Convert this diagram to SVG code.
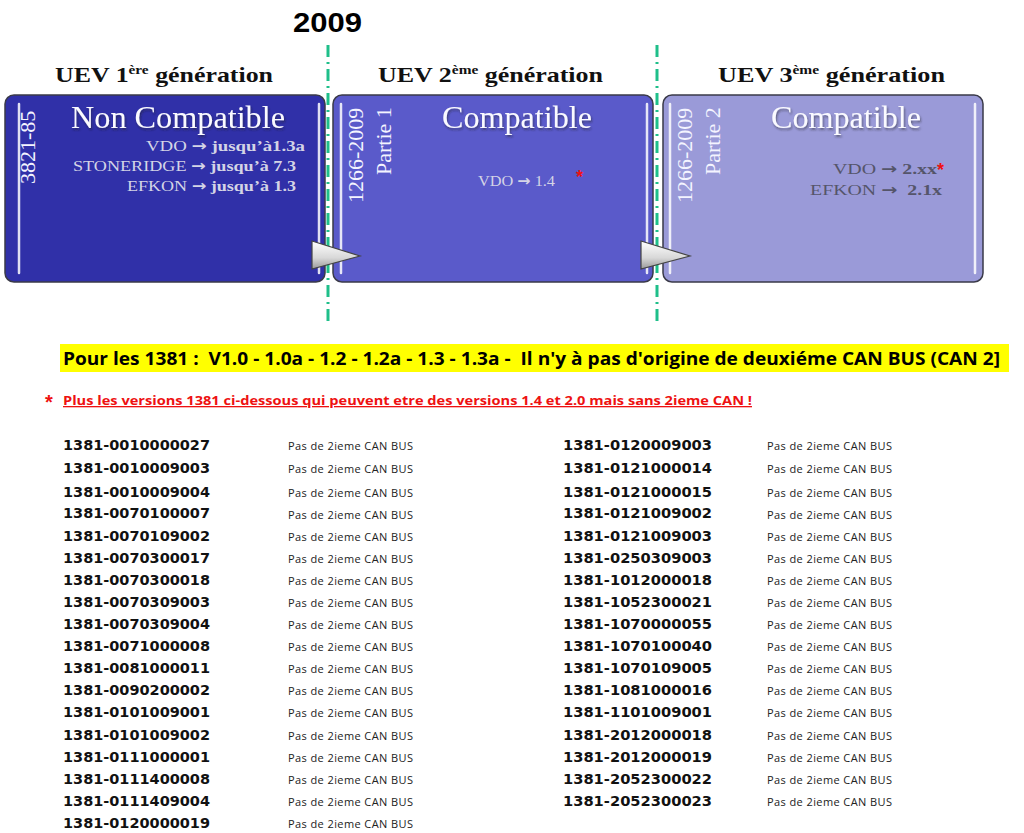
<svg xmlns="http://www.w3.org/2000/svg" width="1024" height="833" viewBox="0 0 1024 833">
<defs>
<style>
.hd{font-family:"Liberation Serif",serif;font-weight:bold;font-size:22px;fill:#111}
.vt{font-family:"Liberation Serif",serif;font-size:22px;fill:#f4f4ff}
.big{font-family:"Liberation Serif",serif;font-size:32px;fill:#fafaff;text-anchor:middle}
.sm{font-family:"Liberation Serif",serif;font-size:15.5px;fill:#d4d4e6}
.sm3{font-family:"Liberation Serif",serif;font-size:15.5px;fill:#55556a}
.b{font-weight:bold}
.ar{font-family:"DejaVu Sans",sans-serif;font-weight:bold;font-size:15px}
.code{font-family:"DejaVu Sans",sans-serif;font-weight:bold;font-size:14px;fill:#111}
.lab{font-family:"Open Sans",sans-serif;font-size:11px;fill:#222}
.ast{font-family:"Liberation Sans",sans-serif;font-weight:bold;fill:#ee1111}
.hl{stroke:#ffffff;stroke-width:2.5;stroke-linecap:round;opacity:0.85}
.box{stroke:#3a3a48;stroke-width:1.5}
.tl{stroke:#1fbf8a;stroke-width:3;stroke-dasharray:12 5 2 5}
</style>
<linearGradient id="tri" x1="0" y1="0" x2="0" y2="1">
<stop offset="0" stop-color="#ffffff"/><stop offset="0.6" stop-color="#d8d8d8"/><stop offset="1" stop-color="#9a9a9a"/>
</linearGradient>
<filter id="sh" x="-10%" y="-20%" width="120%" height="150%">
<feDropShadow dx="1" dy="2" stdDeviation="1" flood-color="#222" flood-opacity="0.5"/>
</filter>
</defs>
<rect width="1024" height="833" fill="#ffffff"/>

<text x="293" y="32" font-family="Liberation Sans, sans-serif" font-weight="bold" font-size="28" fill="#000" textLength="69" lengthAdjust="spacingAndGlyphs">2009</text>

<g id="timeline">
<line class="tl" x1="328" y1="45" x2="328" y2="323"/>
<line class="tl" x1="657" y1="45" x2="657" y2="323"/>
</g>

<text class="hd" x="55" y="82" textLength="218" lengthAdjust="spacingAndGlyphs">UEV 1<tspan font-size="13" dy="-8">ère</tspan><tspan dy="8"> génération</tspan></text>
<text class="hd" x="378" y="82" textLength="225" lengthAdjust="spacingAndGlyphs">UEV 2<tspan font-size="13" dy="-8">ème</tspan><tspan dy="8"> génération</tspan></text>
<text class="hd" x="718" y="82" textLength="227" lengthAdjust="spacingAndGlyphs">UEV 3<tspan font-size="13" dy="-8">ème</tspan><tspan dy="8"> génération</tspan></text>

<g id="gen1">
<rect class="box" x="5" y="95" width="320" height="187" rx="9" fill="#3030a8"/>
<line class="hl" x1="19" y1="104" x2="19" y2="273"/>
<line class="hl" x1="319" y1="104" x2="319" y2="273"/>
<text class="vt" transform="translate(35,184) rotate(-90)" font-size="23">3821-85</text>
<text class="big" x="178" y="128" filter="url(#sh)" textLength="214" lengthAdjust="spacingAndGlyphs">Non Compatible</text>
<text class="sm" x="146" y="151" textLength="159" lengthAdjust="spacingAndGlyphs">VDO <tspan class="ar">→</tspan> <tspan class="b">jusqu’à1.3a</tspan></text>
<text class="sm" x="73" y="171" textLength="223" lengthAdjust="spacingAndGlyphs">STONERIDGE <tspan class="ar">→</tspan> <tspan class="b">jusqu’à 7.3</tspan></text>
<text class="sm" x="127" y="191" textLength="169" lengthAdjust="spacingAndGlyphs">EFKON <tspan class="ar">→</tspan> <tspan class="b">jusqu’à 1.3</tspan></text>
</g>

<g id="gen2">
<rect class="box" x="333" y="95" width="320" height="187" rx="9" fill="#5a5aca"/>
<line class="hl" x1="341" y1="104" x2="341" y2="273"/>
<line class="hl" x1="647" y1="104" x2="647" y2="273"/>
<text class="vt" transform="translate(363,203) rotate(-90)">1266-2009</text>
<text class="vt" transform="translate(391,175) rotate(-90)">Partie 1</text>
<text class="big" x="517" y="128" filter="url(#sh)" textLength="150" lengthAdjust="spacingAndGlyphs">Compatible</text>
<text class="sm" x="478" y="186" textLength="77" lengthAdjust="spacingAndGlyphs">VDO <tspan class="ar">→</tspan> 1.4</text>
<text class="ast" x="576" y="183" font-size="18">*</text>
</g>

<g id="gen3">
<rect class="box" x="663" y="95" width="320" height="187" rx="9" fill="#9a9ad8"/>
<line class="hl" x1="670" y1="104" x2="670" y2="273"/>
<line class="hl" x1="975" y1="104" x2="975" y2="273"/>
<text class="vt" transform="translate(692,203) rotate(-90)">1266-2009</text>
<text class="vt" transform="translate(720,175) rotate(-90)">Partie 2</text>
<text class="big" x="846" y="128" filter="url(#sh)" textLength="150" lengthAdjust="spacingAndGlyphs">Compatible</text>
<text class="sm3" x="833" y="174" textLength="104" lengthAdjust="spacingAndGlyphs">VDO <tspan class="ar">→</tspan> <tspan class="b">2.xx</tspan></text>
<text class="ast" x="937" y="176" font-size="18">*</text>
<text class="sm3" x="810" y="195" textLength="132" lengthAdjust="spacingAndGlyphs" style="white-space:pre">EFKON <tspan class="ar">→</tspan>  <tspan class="b">2.1x</tspan></text>
</g>

<g id="connectors">
<polygon points="312,241 360,256 312,269" fill="url(#tri)" stroke="#444" stroke-width="1.2"/>
<polygon points="641,241 690,256 641,269" fill="url(#tri)" stroke="#444" stroke-width="1.2"/>
</g>

<g id="note">
<rect x="60" y="344" width="949" height="28" fill="#ffff00"/>
<text x="63" y="365" font-family="Open Sans, sans-serif" font-weight="bold" font-size="18" fill="#000" textLength="937" lengthAdjust="spacingAndGlyphs" style="white-space:pre">Pour les 1381 :  V1.0 - 1.0a - 1.2 - 1.2a - 1.3 - 1.3a -  Il n'y à pas d'origine de deuxiéme CAN BUS (CAN 2]</text>
<text class="ast" x="45" y="409" font-size="20">*</text>
<text x="63" y="405" font-family="Open Sans, sans-serif" font-weight="bold" font-size="13" fill="#ee1111" text-decoration="underline" textLength="689" lengthAdjust="spacingAndGlyphs">Plus les versions 1381 ci-dessous qui peuvent etre des versions 1.4 et 2.0 mais sans 2ieme CAN !</text>
</g>

<g id="list-left">
<text class="code" x="63" y="450" textLength="147" lengthAdjust="spacingAndGlyphs">1381-0010000027</text><text class="lab" x="288" y="450" textLength="125">Pas de 2ieme CAN BUS</text>
<text class="code" x="63" y="473" textLength="147" lengthAdjust="spacingAndGlyphs">1381-0010009003</text><text class="lab" x="288" y="473" textLength="125">Pas de 2ieme CAN BUS</text>
<text class="code" x="63" y="497" textLength="147" lengthAdjust="spacingAndGlyphs">1381-0010009004</text><text class="lab" x="288" y="497" textLength="125">Pas de 2ieme CAN BUS</text>
<text class="code" x="63" y="518" textLength="147" lengthAdjust="spacingAndGlyphs">1381-0070100007</text><text class="lab" x="288" y="519" textLength="125">Pas de 2ieme CAN BUS</text>
<text class="code" x="63" y="541" textLength="147" lengthAdjust="spacingAndGlyphs">1381-0070109002</text><text class="lab" x="288" y="541" textLength="125">Pas de 2ieme CAN BUS</text>
<text class="code" x="63" y="563" textLength="147" lengthAdjust="spacingAndGlyphs">1381-0070300017</text><text class="lab" x="288" y="563" textLength="125">Pas de 2ieme CAN BUS</text>
<text class="code" x="63" y="585" textLength="147" lengthAdjust="spacingAndGlyphs">1381-0070300018</text><text class="lab" x="288" y="585" textLength="125">Pas de 2ieme CAN BUS</text>
<text class="code" x="63" y="607" textLength="147" lengthAdjust="spacingAndGlyphs">1381-0070309003</text><text class="lab" x="288" y="607" textLength="125">Pas de 2ieme CAN BUS</text>
<text class="code" x="63" y="629" textLength="147" lengthAdjust="spacingAndGlyphs">1381-0070309004</text><text class="lab" x="288" y="629" textLength="125">Pas de 2ieme CAN BUS</text>
<text class="code" x="63" y="651" textLength="147" lengthAdjust="spacingAndGlyphs">1381-0071000008</text><text class="lab" x="288" y="651" textLength="125">Pas de 2ieme CAN BUS</text>
<text class="code" x="63" y="673" textLength="147" lengthAdjust="spacingAndGlyphs">1381-0081000011</text><text class="lab" x="288" y="673" textLength="125">Pas de 2ieme CAN BUS</text>
<text class="code" x="63" y="695" textLength="147" lengthAdjust="spacingAndGlyphs">1381-0090200002</text><text class="lab" x="288" y="695" textLength="125">Pas de 2ieme CAN BUS</text>
<text class="code" x="63" y="717" textLength="147" lengthAdjust="spacingAndGlyphs">1381-0101009001</text><text class="lab" x="288" y="717" textLength="125">Pas de 2ieme CAN BUS</text>
<text class="code" x="63" y="740" textLength="147" lengthAdjust="spacingAndGlyphs">1381-0101009002</text><text class="lab" x="288" y="740" textLength="125">Pas de 2ieme CAN BUS</text>
<text class="code" x="63" y="762" textLength="147" lengthAdjust="spacingAndGlyphs">1381-0111000001</text><text class="lab" x="288" y="762" textLength="125">Pas de 2ieme CAN BUS</text>
<text class="code" x="63" y="784" textLength="147" lengthAdjust="spacingAndGlyphs">1381-0111400008</text><text class="lab" x="288" y="784" textLength="125">Pas de 2ieme CAN BUS</text>
<text class="code" x="63" y="806" textLength="147" lengthAdjust="spacingAndGlyphs">1381-0111409004</text><text class="lab" x="288" y="806" textLength="125">Pas de 2ieme CAN BUS</text>
<text class="code" x="63" y="828" textLength="147" lengthAdjust="spacingAndGlyphs">1381-0120000019</text><text class="lab" x="288" y="828" textLength="125">Pas de 2ieme CAN BUS</text>
</g>

<g id="list-right">
<text class="code" x="563" y="450" textLength="149" lengthAdjust="spacingAndGlyphs">1381-0120009003</text><text class="lab" x="767" y="450" textLength="125">Pas de 2ieme CAN BUS</text>
<text class="code" x="563" y="473" textLength="149" lengthAdjust="spacingAndGlyphs">1381-0121000014</text><text class="lab" x="767" y="473" textLength="125">Pas de 2ieme CAN BUS</text>
<text class="code" x="563" y="497" textLength="149" lengthAdjust="spacingAndGlyphs">1381-0121000015</text><text class="lab" x="767" y="497" textLength="125">Pas de 2ieme CAN BUS</text>
<text class="code" x="563" y="518" textLength="149" lengthAdjust="spacingAndGlyphs">1381-0121009002</text><text class="lab" x="767" y="519" textLength="125">Pas de 2ieme CAN BUS</text>
<text class="code" x="563" y="541" textLength="149" lengthAdjust="spacingAndGlyphs">1381-0121009003</text><text class="lab" x="767" y="541" textLength="125">Pas de 2ieme CAN BUS</text>
<text class="code" x="563" y="563" textLength="149" lengthAdjust="spacingAndGlyphs">1381-0250309003</text><text class="lab" x="767" y="563" textLength="125">Pas de 2ieme CAN BUS</text>
<text class="code" x="563" y="585" textLength="149" lengthAdjust="spacingAndGlyphs">1381-1012000018</text><text class="lab" x="767" y="585" textLength="125">Pas de 2ieme CAN BUS</text>
<text class="code" x="563" y="607" textLength="149" lengthAdjust="spacingAndGlyphs">1381-1052300021</text><text class="lab" x="767" y="607" textLength="125">Pas de 2ieme CAN BUS</text>
<text class="code" x="563" y="629" textLength="149" lengthAdjust="spacingAndGlyphs">1381-1070000055</text><text class="lab" x="767" y="629" textLength="125">Pas de 2ieme CAN BUS</text>
<text class="code" x="563" y="651" textLength="149" lengthAdjust="spacingAndGlyphs">1381-1070100040</text><text class="lab" x="767" y="651" textLength="125">Pas de 2ieme CAN BUS</text>
<text class="code" x="563" y="673" textLength="149" lengthAdjust="spacingAndGlyphs">1381-1070109005</text><text class="lab" x="767" y="673" textLength="125">Pas de 2ieme CAN BUS</text>
<text class="code" x="563" y="695" textLength="149" lengthAdjust="spacingAndGlyphs">1381-1081000016</text><text class="lab" x="767" y="695" textLength="125">Pas de 2ieme CAN BUS</text>
<text class="code" x="563" y="717" textLength="149" lengthAdjust="spacingAndGlyphs">1381-1101009001</text><text class="lab" x="767" y="717" textLength="125">Pas de 2ieme CAN BUS</text>
<text class="code" x="563" y="740" textLength="149" lengthAdjust="spacingAndGlyphs">1381-2012000018</text><text class="lab" x="767" y="740" textLength="125">Pas de 2ieme CAN BUS</text>
<text class="code" x="563" y="762" textLength="149" lengthAdjust="spacingAndGlyphs">1381-2012000019</text><text class="lab" x="767" y="762" textLength="125">Pas de 2ieme CAN BUS</text>
<text class="code" x="563" y="784" textLength="149" lengthAdjust="spacingAndGlyphs">1381-2052300022</text><text class="lab" x="767" y="784" textLength="125">Pas de 2ieme CAN BUS</text>
<text class="code" x="563" y="806" textLength="149" lengthAdjust="spacingAndGlyphs">1381-2052300023</text><text class="lab" x="767" y="806" textLength="125">Pas de 2ieme CAN BUS</text>
</g>
</svg>
